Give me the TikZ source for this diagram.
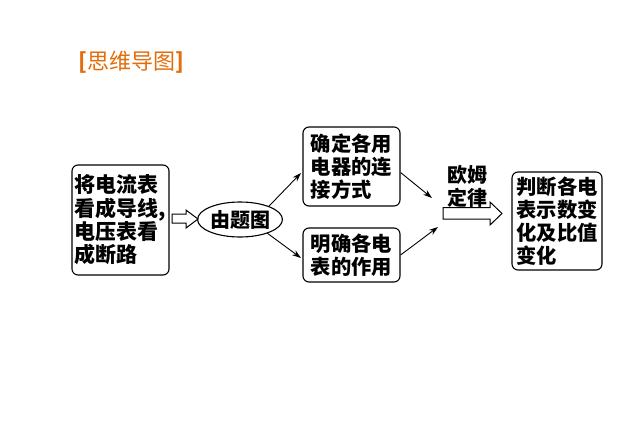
\documentclass[tikz,border=0pt]{standalone}
\usepackage{fontspec}
\setmainfont{Noto Sans CJK SC}
\usetikzlibrary{shapes.geometric,arrows.meta}
\definecolor{titleorange}{HTML}{E46C0A}
\tikzset{
  box/.style={draw, line width=1.1pt, rounded corners=6pt, align=left, inner sep=0pt,
    font=\fontsize{20.3}{23}\selectfont\bfseries},
  thinarrow/.style={draw, line width=0.9pt, -{Stealth[length=9pt,width=6pt]}},
  hollow/.style={draw, line width=1pt, fill=white},
  lbl/.style={font=\fontsize{20}{23}\selectfont\bfseries, align=center, inner sep=0pt}
}
\begin{document}
\begin{tikzpicture}[x=1pt,y=-1pt]
\useasboundingbox[fill=white] (0,0) rectangle (644,431);
\node[font=\fontsize{22}{24}\selectfont, text=titleorange, anchor=west, inner sep=0pt] (title) at (78,62) {\textbf{[}思维导图\textbf{]}};
\node[box, minimum width=97pt, minimum height=110pt, font=\fontsize{21}{23.3}\selectfont\bfseries] (left) at (120.5,220) {将电流表\\看成导线,\\电压表看\\成断路};
\node[ellipse, draw, line width=1.1pt, minimum width=74pt, minimum height=35pt, inner sep=0pt, font=\fontsize{20}{23}\selectfont\bfseries] (tu) at (240,219.5) {由题图};
\node[box, minimum width=97pt, minimum height=79pt] (top) at (351.5,166.5) {确定各用\\电器的连\\接方式};
\node[box, minimum width=97pt, minimum height=54pt] (bot) at (351.5,255) {明确各电\\表的作用};
\node[box, minimum width=90pt, minimum height=98pt] (right) at (557,221) {判断各电\\表示数变\\化及比值\\变化};
\node[lbl] (om) at (467,186) {欧姆\\定律};
% hollow arrows
\draw[hollow] (172,214) -- (186,214) -- (186,210) -- (198,219) -- (186,228) -- (186,223) -- (172,223) -- cycle;
\draw[hollow] (443,207.5) -- (490,207.5) -- (490,202) -- (502,213.5) -- (490,225) -- (490,219) -- (443,219) -- cycle;
% thin arrows
\coordinate (a1) at (301,173);
\coordinate (a2) at (301,258);
\coordinate (a3) at (432,198);
\coordinate (a4) at (438,227);
\draw[thinarrow] (tu.north east) ++(-2,0) -- (a1);
\draw[thinarrow] (tu.south east) ++(-3,1) -- (a2);
\draw[thinarrow] (top.east) ++(0,6) -- (a3);
\draw[thinarrow] (bot.east) -- (a4);
\end{tikzpicture}
\end{document}
